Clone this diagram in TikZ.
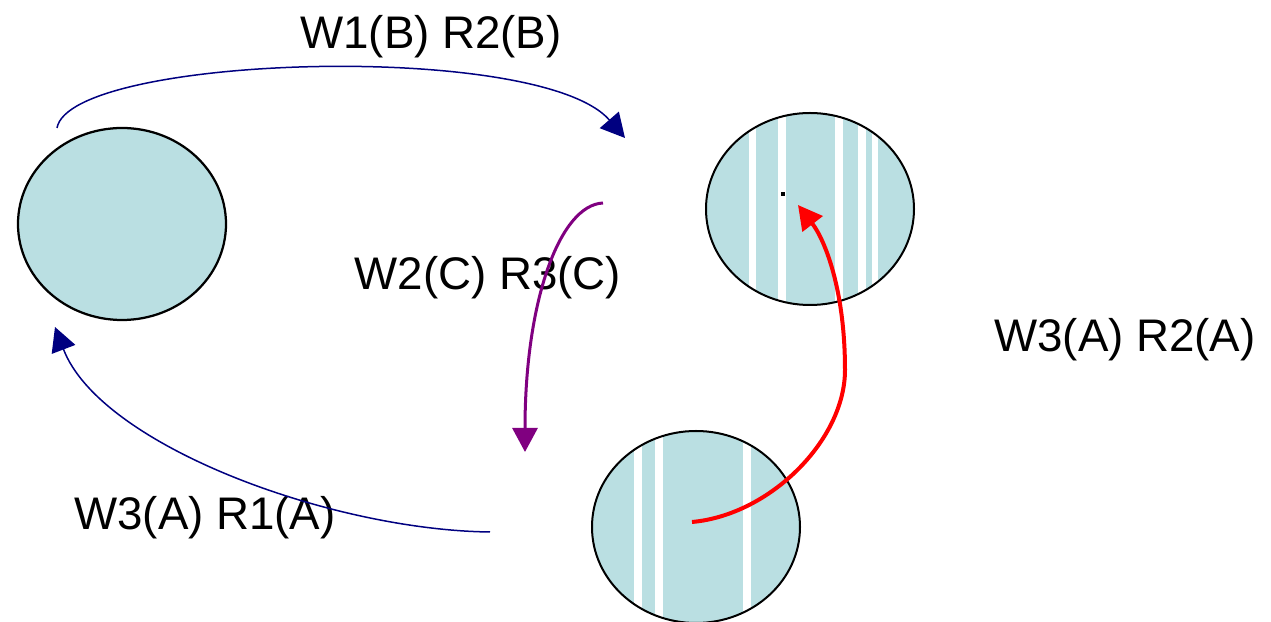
\documentclass[tikz,border=0pt]{standalone}
\usepackage{fontspec}
\setmainfont{Liberation Sans}
\usetikzlibrary{arrows.meta,shapes.geometric}
\definecolor{sitefill}{RGB}{186,223,226}
\definecolor{navyline}{RGB}{0,0,128}
\definecolor{purpleline}{RGB}{128,0,128}
\tikzset{
    site/.style={ellipse, draw, line width=0.45mm, minimum width=41.6mm, minimum height=38.4mm, inner sep=0pt}, % outline of a site
    lbl/.style={anchor=base, inner sep=0pt, font=\fontsize{26}{31}\selectfont}, % transaction labels
    flow/.style={-{Triangle[length=4.8mm, width=5mm]}} % arrow between sites
}

\begin{document}
\begin{tikzpicture}[x=0.2mm, y=-0.2mm]
    \useasboundingbox (0,0) rectangle (1271,622);
    \def\rx{104} \def\ry{96}

    % site fills, the two right ones striped
    \fill[sitefill] (122,224) ellipse [x radius=\rx, y radius=\ry];
    \begin{scope}
        \clip (810,209) ellipse [x radius=\rx, y radius=\ry];
        \fill[sitefill] (700,100) rectangle (920,320);
        \foreach \a/\b in {749/756, 778/786, 835/843, 858/866, 872/878} {\fill[white] (\a,100) rectangle (\b,320);}
    \end{scope}
    \begin{scope}
        \clip (696,527) ellipse [x radius=\rx, y radius=\ry];
        \fill[sitefill] (585,420) rectangle (805,630);
        \foreach \a/\b in {634/642, 655/663, 743/751} {\fill[white] (\a,420) rectangle (\b,630);}
    \end{scope}
    \fill (781,192) rectangle (785,196);

    \node[site] (p1) at (122,224) {};
    \node[site, line width=0.4mm] (p2) at (810,209) {};
    \node[site, line width=0.4mm] (p3) at (696,527) {};

    \node[lbl] (t12) at (431,49) {W1(B) R2(B)};
    \node[lbl] (t23) at (488,290) {W2(C) R3(C)};
    \node[lbl] (t32) at (1125,352) {W3(A) R2(A)};
    \node[lbl] (t31) at (205,530) {W3(A) R1(A)};

    \coordinate (w1s) at (57,128);  \coordinate (w1e) at (625,138);
    \coordinate (w2s) at (603,203); \coordinate (w2e) at (525,452);
    \coordinate (w3s) at (692,522); \coordinate (w3m) at (845,370); \coordinate (w3e) at (798,205);
    \coordinate (w4s) at (490,532); \coordinate (w4e) at (55,327);

    \draw[flow, navyline, line width=0.3mm] (w1s) .. controls (70,55) and (540,40) .. (w1e);
    \draw[flow, purpleline, line width=0.6mm] (w2s) .. controls (560,205) and (525,300) .. (w2e);
    \draw[flow, red, line width=0.8mm] (w3s) .. controls (770,515) and (845,440) .. (w3m) .. controls (845,290) and (825,240) .. (w3e);
    \draw[flow, navyline, line width=0.3mm] (w4s) .. controls (330,530) and (100,445) .. (w4e);
\end{tikzpicture}
\end{document}
